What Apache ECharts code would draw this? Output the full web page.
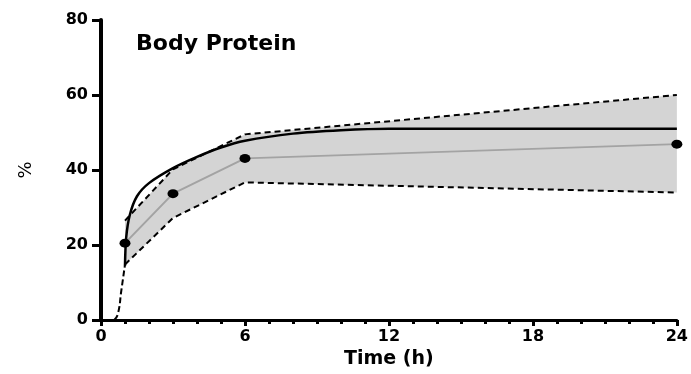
<!DOCTYPE html>
<html>
<head>
<meta charset="utf-8">
<script src="https://cdn.jsdelivr.net/npm/echarts@6/dist/echarts.min.js"></script>
<style>
html,body{margin:0;padding:0;background:#fff;}
#chart{width:691px;height:374px;}
</style>
</head>
<body>
<div id="chart"></div>
<script>
// ---- data ----
const titleText = 'Body Protein';
const xName = 'Time (h)';
const yName = '%';
const xTicks = [0, 6, 12, 18, 24];
const yTicks = [0, 20, 40, 60, 80];

// observed means (dots) and band bounds
const obsTime  = [1, 3, 6, 24];
const obsMean  = [20.5, 33.7, 43.1, 46.9];
const bandUpper = [26.5, 40.2, 49.5, 60.0];
const bandLower = [14.8, 27.2, 36.7, 34.0];

// dashed lead-in below the first sample
const leadTime  = [0.55, 0.7, 0.85, 1];
const leadValue = [0, 1.5, 8, 14.8];

// model fit (solid black)
const modelTime  = [1, 1.05, 1.2, 1.5, 2, 3, 4, 5, 6, 8, 10, 12, 18, 24];
const modelValue = [14.5, 22, 28, 33, 36.5, 40.5, 43.5, 46, 47.8, 49.7, 50.6, 51, 51, 51];

// ---- build ----
const pair = (xs, ys) => xs.map((x, i) => [x, ys[i]]);
const bandData = obsTime.map((t, i) => [t, bandLower[i], bandUpper[i]]);

const chart = echarts.init(document.getElementById('chart'), null, {renderer: 'canvas'});
const font = 'DejaVu Sans';

chart.setOption({
  animation: false,
  backgroundColor: '#ffffff',
  title: {
    text: titleText,
    left: 131, top: 28,
    textStyle: {fontFamily: font, fontWeight: 'bold', fontSize: 22, color: '#000'}
  },
  grid: {left: 101, right: 9, top: 20, bottom: 53, containLabel: false},
  xAxis: {
    type: 'value',
    min: xTicks[0], max: xTicks[xTicks.length - 1], interval: 6,
    name: xName, nameLocation: 'middle', nameGap: 30,
    nameTextStyle: {fontFamily: font, fontWeight: 'bold', fontSize: 19, color: '#000'},
    axisLine: {show: true, onZero: false, lineStyle: {color: '#000', width: 3}},
    axisTick: {show: true, length: 6, lineStyle: {color: '#000', width: 3}},
    minorTick: {show: true, splitNumber: 6, length: 4, lineStyle: {color: '#000', width: 3}},
    axisLabel: {margin: 9, fontFamily: font, fontWeight: 'bold', fontSize: 16, color: '#000'},
    splitLine: {show: false}
  },
  yAxis: {
    type: 'value',
    min: yTicks[0], max: yTicks[yTicks.length - 1], interval: 20,
    name: yName, nameLocation: 'middle', nameGap: 66, nameRotate: 90,
    nameTextStyle: {fontFamily: font, fontSize: 18, color: '#000'},
    axisLine: {show: true, lineStyle: {color: '#000', width: 4}},
    axisTick: {show: true, length: 9, lineStyle: {color: '#000', width: 3}},
    axisLabel: {margin: 13, fontFamily: font, fontWeight: 'bold', fontSize: 16, color: '#000'},
    splitLine: {show: false}
  },
  series: [
    {
      type: 'custom', name: 'band', data: bandData, silent: true, z: 1,
      encode: {x: 0, y: [1, 2]},
      renderItem: function (params, api) {
        if (params.dataIndex !== 0) return null;
        const pts = [];
        for (let i = 0; i < bandData.length; i++) pts.push(api.coord([bandData[i][0], bandData[i][2]]));
        for (let i = bandData.length - 1; i >= 0; i--) pts.push(api.coord([bandData[i][0], bandData[i][1]]));
        return {
          type: 'polygon',
          shape: {points: pts},
          style: {fill: '#d4d4d4', stroke: null}
        };
      }
    },
    {
      type: 'line', name: 'mean', data: pair(obsTime, obsMean),
      symbol: 'none', lineStyle: {color: '#a3a3a3', width: 2}, z: 2
    },
    {
      type: 'line', name: 'upper', data: pair(obsTime, bandUpper),
      symbol: 'none', lineStyle: {color: '#000', width: 2, type: [6, 4]}, z: 3
    },
    {
      type: 'line', name: 'lower', data: pair(obsTime, bandLower),
      symbol: 'none', lineStyle: {color: '#000', width: 2, type: [6, 4]}, z: 3
    },
    {
      type: 'line', name: 'lead', data: pair(leadTime, leadValue), smooth: true,
      symbol: 'none', lineStyle: {color: '#000', width: 2, type: [6, 3]}, z: 3
    },
    {
      type: 'line', name: 'model', data: pair(modelTime, modelValue), smooth: 0.3,
      symbol: 'none', lineStyle: {color: '#000', width: 2.5}, z: 4
    },
    {
      type: 'scatter', name: 'obs', data: pair(obsTime, obsMean),
      symbol: 'circle', symbolSize: [11, 9], itemStyle: {color: '#000', opacity: 1}, z: 5
    }
  ]
});
</script>
</body>
</html>
